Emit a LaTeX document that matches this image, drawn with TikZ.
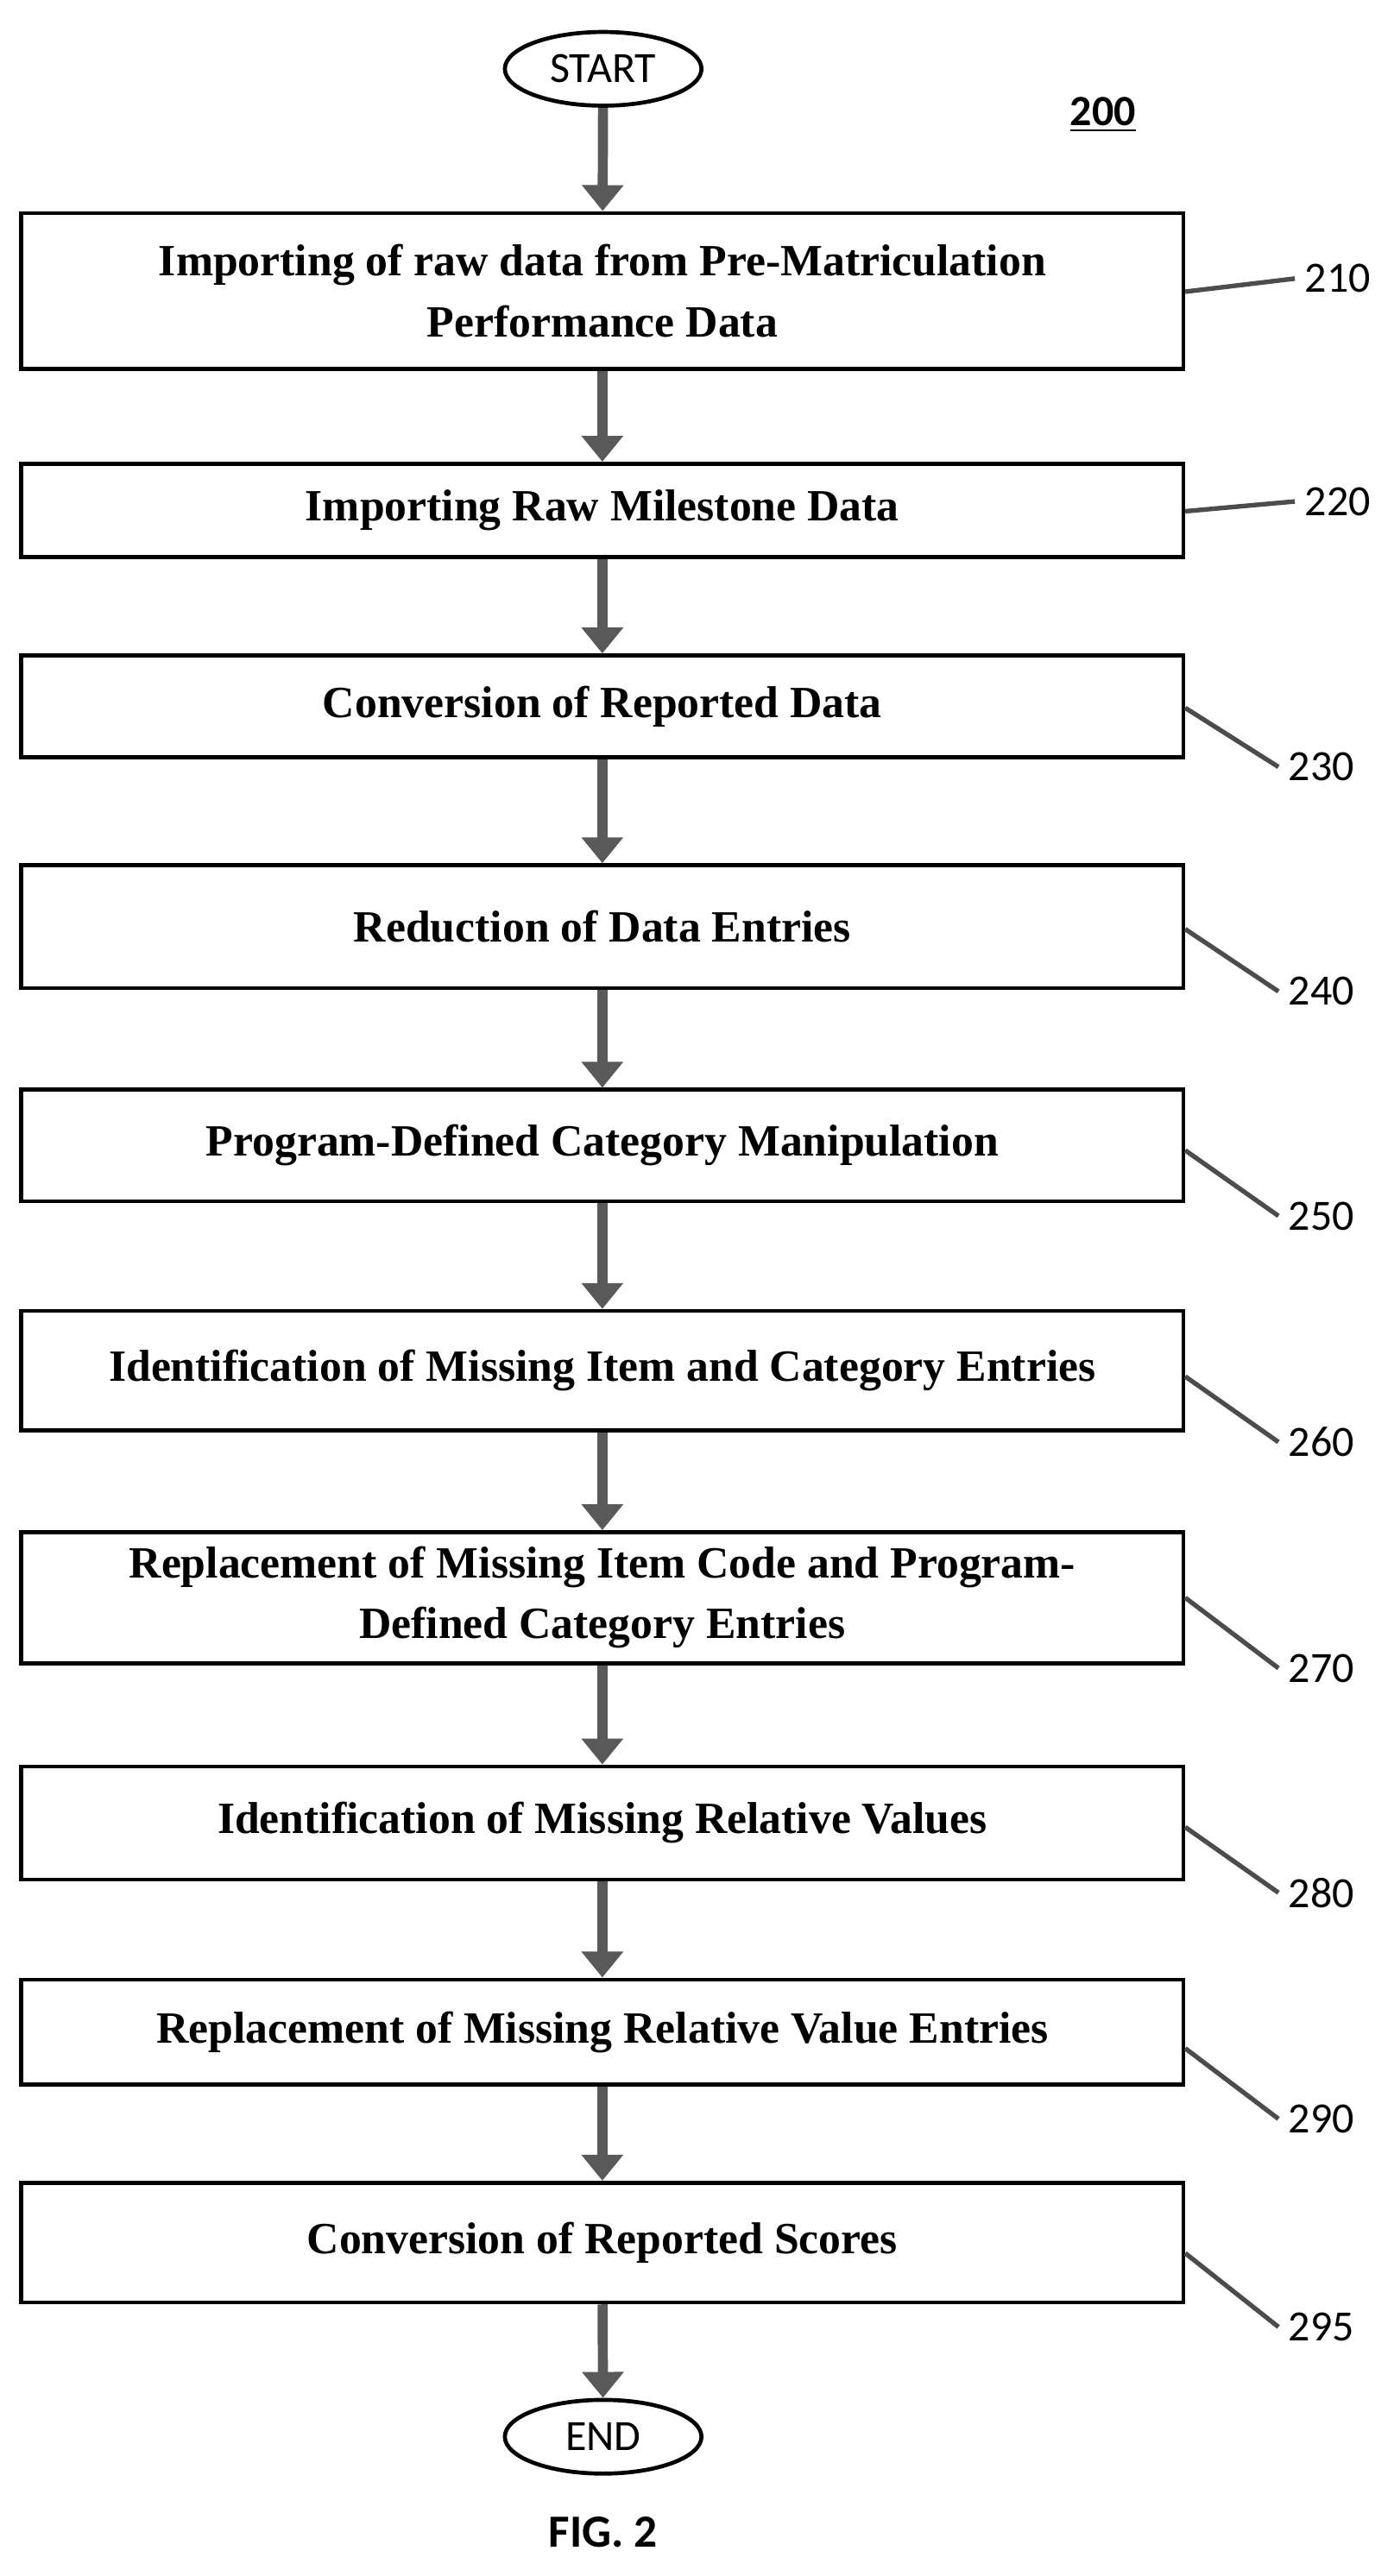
\documentclass[tikz,border=0pt]{standalone}
\usepackage{fontspec}
\setmainfont{Liberation Serif}
\newfontfamily\labfont{Carlito}
\usetikzlibrary{arrows.meta,shapes.geometric}
\begin{document}
\begin{tikzpicture}[x=0.02cm,y=-0.02cm,
  procbox/.style={draw,line width=1.4pt,minimum width=14.18cm,align=center,
    font=\fontsize{15.5}{21}\selectfont\bfseries,inner sep=2pt},
  term/.style={draw,ellipse,line width=1.4pt,minimum width=2.4cm,minimum height=0.9cm,
    inner sep=1pt,font=\labfont\fontsize{15}{18}\selectfont},
  flow/.style={draw=gray!70!black,line width=3.5pt,-{Triangle[length=9pt,width=14pt]}},
  lead/.style={line width=1.6pt,draw=gray!60!black},
  refnum/.style={font=\labfont\fontsize{15}{18}\selectfont,anchor=west}]
\useasboundingbox (0,0) rectangle (850,1572);
% terminals
\node[term] (start) at (368,42) {START};
\node[term] (end) at (368,1487) {END};
\node[font=\labfont\bfseries\fontsize{16}{18}\selectfont] (fig) at (368,1545) {FIG. 2};
\node[font=\labfont\bfseries\fontsize{15}{18}\selectfont] (num) at (673,70) {\underline{200}};
% steps
\node[procbox,minimum height=1.9cm] (s210) at (367.5,177.5) {Importing of raw data from Pre-Matriculation\\Performance Data};
\node[procbox,minimum height=1.14cm] (s220) at (367.5,311.5) {Importing Raw Milestone Data};
\node[procbox,minimum height=1.24cm] (s230) at (367.5,431) {Conversion of Reported Data};
\node[procbox,minimum height=1.5cm] (s240) at (367.5,565.5) {Reduction of Data Entries};
\node[procbox,minimum height=1.36cm] (s250) at (367.5,699) {Program-Defined Category Manipulation};
\node[procbox,minimum height=1.46cm] (s260) at (367.5,836.5) {Identification of Missing Item and Category Entries};
\node[procbox,minimum height=1.6cm] (s270) at (367.5,975) {Replacement of Missing Item Code and Program-\\Defined Category Entries};
\node[procbox,minimum height=1.38cm] (s280) at (367.5,1112.5) {Identification of Missing Relative Values};
\node[procbox,minimum height=1.28cm] (s290) at (367.5,1240) {Replacement of Missing Relative Value Entries};
\node[procbox,minimum height=1.46cm] (s295) at (367.5,1368.5) {Conversion of Reported Scores};
% flow arrows
\draw[flow] (start) -- (s210);
\draw[flow] (s210) -- (s220);
\draw[flow] (s220) -- (s230);
\draw[flow] (s230) -- (s240);
\draw[flow] (s240) -- (s250);
\draw[flow] (s250) -- (s260);
\draw[flow] (s260) -- (s270);
\draw[flow] (s270) -- (s280);
\draw[flow] (s280) -- (s290);
\draw[flow] (s290) -- (s295);
\draw[flow] (s295) -- (end);
% reference numerals
\node[refnum] (n210) at (790,170) {210};
\node[refnum] (n220) at (790,306) {220};
\node[refnum] (n230) at (780,468) {230};
\node[refnum] (n240) at (780,605) {240};
\node[refnum] (n250) at (780,742) {250};
\node[refnum] (n260) at (780,880) {260};
\node[refnum] (n270) at (780,1018) {270};
\node[refnum] (n280) at (780,1155) {280};
\node[refnum] (n290) at (780,1293) {290};
\node[refnum] (n295) at (780,1420) {295};
\draw[lead] (s210.east |- 0,178) -- (n210.west);
\draw[lead] (s220.east |- 0,312) -- (n220.west);
\draw[lead] (s230.east |- 0,432) -- (n230.west);
\draw[lead] (s240.east |- 0,567) -- (n240.west);
\draw[lead] (s250.east |- 0,702) -- (n250.west);
\draw[lead] (s260.east |- 0,840) -- (n260.west);
\draw[lead] (s270.east |- 0,975) -- (n270.west);
\draw[lead] (s280.east |- 0,1115) -- (n280.west);
\draw[lead] (s290.east |- 0,1250) -- (n290.west);
\draw[lead] (s295.east |- 0,1375) -- (n295.west);
\end{tikzpicture}
\end{document}
